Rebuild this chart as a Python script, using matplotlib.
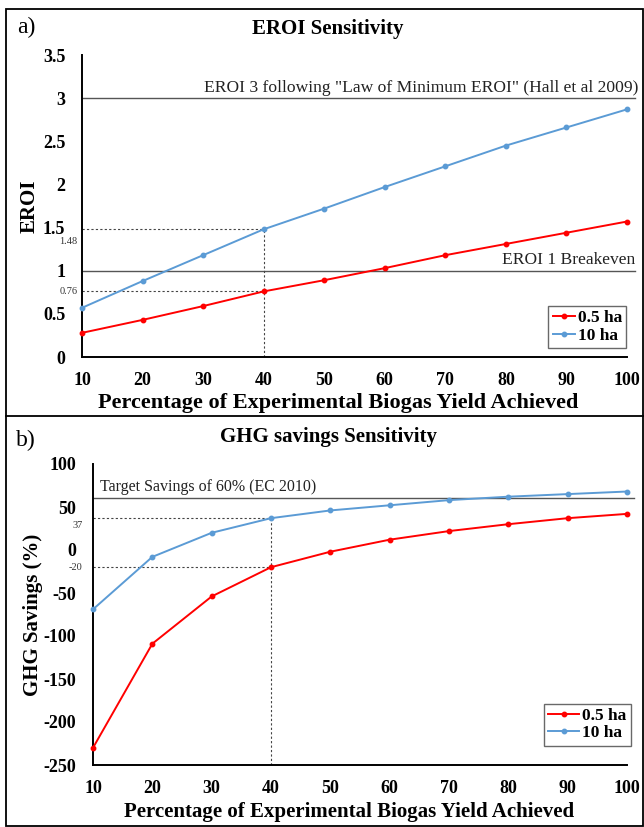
import matplotlib
matplotlib.use("Agg")
import matplotlib.pyplot as plt
from matplotlib.lines import Line2D
from matplotlib.patches import Rectangle

plt.rcParams['font.family'] = ['Liberation Serif', 'DejaVu Serif']
plt.rcParams['axes.unicode_minus'] = False

# ---- data ----
pct = [10, 20, 30, 40, 50, 60, 70, 80, 90, 100]
eroi_05 = [0.28, 0.43, 0.59, 0.76, 0.89, 1.03, 1.18, 1.31, 1.44, 1.57]
eroi_10 = [0.57, 0.88, 1.18, 1.48, 1.72, 1.97, 2.21, 2.45, 2.66, 2.87]
ghg_05 = [-230, -109, -54, -20, -2, 12, 22, 30, 37, 42]
ghg_10 = [-69, -8, 20, 37, 46, 52, 58, 62, 65, 68]
series_names = ['0.5 ha', '10 ha']
pct_labels = ['10', '20', '30', '40', '50', '60', '70', '80', '90', '100']
eroi_yticks = [0, 0.5, 1, 1.5, 2, 2.5, 3, 3.5]
eroi_yticklabels = ['0', '0.5', '1', '1.5', '2', '2.5', '3', '3.5']
ghg_yticks = [-250, -200, -150, -100, -50, 0, 50, 100]
ghg_yticklabels = ['-250', '-200', '-150', '-100', '-50', '0', '50', '100']
eroi_refs = [3, 1]
eroi_ref_labels = ['EROI 3 following "Law of Minimum EROI" (Hall et al 2009)', 'EROI 1 Breakeven']
ghg_ref = 60
ghg_ref_label = 'Target Savings of 60% (EC 2010)'
mark_x = 40
eroi_marks = [1.48, 0.76]
ghg_marks = [37, -20]

RED = '#FF0000'
BLUE = '#5B9BD5'
W, H = 644, 827
fig = plt.figure(figsize=(W / 100, H / 100), dpi=100)

def fx(px):
    return px / W

def fy(py):
    return 1 - py / H

# frame
fig.patches.append(Rectangle((fx(6), fy(826)), fx(643) - fx(6), fy(9) - fy(826),
                             transform=fig.transFigure, fill=False, lw=1.3, ec='black'))
fig.add_artist(Line2D([fx(6), fx(643)], [fy(416), fy(416)], transform=fig.transFigure,
                      lw=1.3, color='black'))

TICKFONT = dict(fontsize=13, fontweight='bold')

def style_axes(ax):
    for s in ['top', 'right']:
        ax.spines[s].set_visible(False)
    for s in ['left', 'bottom']:
        ax.spines[s].set_linewidth(1.4)
        ax.spines[s].set_color('black')
    ax.tick_params(length=0)
    ax.tick_params(axis='x', pad=11)
    ax.tick_params(axis='y', pad=12)

# ---- panel a ----
axa = fig.add_axes([fx(82), fy(357), fx(627) - fx(82), fy(55) - fy(357)])
axa.set_xlim(10, 100)
axa.set_ylim(0, 3.5)
axa.set_xticks(pct, labels=pct_labels, **TICKFONT)
axa.set_yticks(eroi_yticks, labels=eroi_yticklabels, **TICKFONT)
style_axes(axa)
for r in eroi_refs:
    axa.plot([0, 1.015], [r, r], transform=axa.get_yaxis_transform(), color='#555555',
             lw=1.0, clip_on=False, zorder=1)
axa.text(1.02, eroi_refs[0] + 0.03, eroi_ref_labels[0], transform=axa.get_yaxis_transform(),
         ha='right', va='bottom', fontsize=12.6, color='#222222')
axa.text(1.015, eroi_refs[1] + 0.03, eroi_ref_labels[1], transform=axa.get_yaxis_transform(),
         ha='right', va='bottom', fontsize=12.6, color='#222222')
for m in eroi_marks:
    axa.plot([10, mark_x], [m, m], ls=(0, (2, 2)), color='#444444', lw=0.8, zorder=1)
axa.plot([mark_x, mark_x], [0, max(eroi_marks)], ls=(0, (2, 2)), color='#444444', lw=0.8, zorder=1)
axa.text(-0.008, eroi_marks[0] - 0.09, '1.48', transform=axa.get_yaxis_transform(),
         ha='right', va='top', fontsize=7.5, color='#333333')
axa.text(-0.008, eroi_marks[1], '0.76', transform=axa.get_yaxis_transform(),
         ha='right', va='center', fontsize=7.5, color='#333333')
axa.plot(pct, eroi_05, color=RED, lw=1.4, marker='o', ms=3.2, label=series_names[0], clip_on=False, zorder=3)
axa.plot(pct, eroi_10, color=BLUE, lw=1.4, marker='o', ms=3.2, label=series_names[1], clip_on=False, zorder=3)
axa.set_ylabel('EROI', fontsize=15, fontweight='bold')
axa.yaxis.set_label_coords(-0.077, 0.5)
axa.set_xlabel('Percentage of Experimental Biogas Yield Achieved', fontsize=16, fontweight='bold')
axa.xaxis.set_label_coords(0.47, -0.12)
leg = axa.legend(loc='lower right', bbox_to_anchor=(1.015, 0.0), frameon=True, fancybox=False,
                 edgecolor='#444444', handlelength=1.3, handletextpad=0.15, borderpad=0.25,
                 labelspacing=0.1, prop={'weight': 'bold', 'size': 12.5})
leg.get_frame().set_linewidth(1.0)

# ---- panel b ----
axb = fig.add_axes([fx(93), fy(765), fx(627) - fx(93), fy(464) - fy(765)])
axb.set_xlim(10, 100)
axb.set_ylim(-250, 100)
axb.set_xticks(pct, labels=pct_labels, **TICKFONT)
axb.set_yticks(ghg_yticks, labels=ghg_yticklabels, **TICKFONT)
style_axes(axb)
axb.plot([0, 1.013], [ghg_ref, ghg_ref], transform=axb.get_yaxis_transform(), color='#555555',
         lw=1.0, clip_on=False, zorder=1)
axb.text(0.013, ghg_ref + 4, ghg_ref_label, transform=axb.get_yaxis_transform(),
         ha='left', va='bottom', fontsize=11.5, color='#222222')
for m in ghg_marks:
    axb.plot([10, mark_x], [m, m], ls=(0, (2, 2)), color='#444444', lw=0.8, zorder=1)
axb.plot([mark_x, mark_x], [-250, max(ghg_marks)], ls=(0, (2, 2)), color='#444444', lw=0.8, zorder=1)
axb.text(-0.02, ghg_marks[0] - 3, '37', transform=axb.get_yaxis_transform(),
         ha='right', va='top', fontsize=7.5, color='#333333')
axb.text(-0.02, ghg_marks[1], '-20', transform=axb.get_yaxis_transform(),
         ha='right', va='center', fontsize=7.5, color='#333333')
axb.plot(pct, ghg_05, color=RED, lw=1.4, marker='o', ms=3.2, label=series_names[0], clip_on=False, zorder=3)
axb.plot(pct, ghg_10, color=BLUE, lw=1.4, marker='o', ms=3.2, label=series_names[1], clip_on=False, zorder=3)
axb.set_ylabel('GHG Savings (%)', fontsize=15, fontweight='bold')
axb.yaxis.set_label_coords(-0.094, 0.5)
axb.set_xlabel('Percentage of Experimental Biogas Yield Achieved', fontsize=15, fontweight='bold')
axb.xaxis.set_label_coords(0.48, -0.124)
leg = axb.legend(loc='lower right', bbox_to_anchor=(1.023, 0.035), frameon=True, fancybox=False,
                 edgecolor='#444444', handlelength=1.8, handletextpad=0.15, borderpad=0.25,
                 labelspacing=0.05, prop={'weight': 'bold', 'size': 12.5})
leg.get_frame().set_linewidth(1.0)

# titles
fig.text(fx(328), fy(29), 'EROI Sensitivity', ha='center', va='center', fontsize=15, fontweight='bold')
fig.text(fx(328), fy(437), 'GHG savings Sensitivity', ha='center', va='center', fontsize=15, fontweight='bold')
fig.text(fx(17), fy(27), 'a)', ha='left', va='center', fontsize=17)
fig.text(fx(16), fy(440), 'b)', ha='left', va='center', fontsize=17)

fig.savefig('out.png', dpi=100)
